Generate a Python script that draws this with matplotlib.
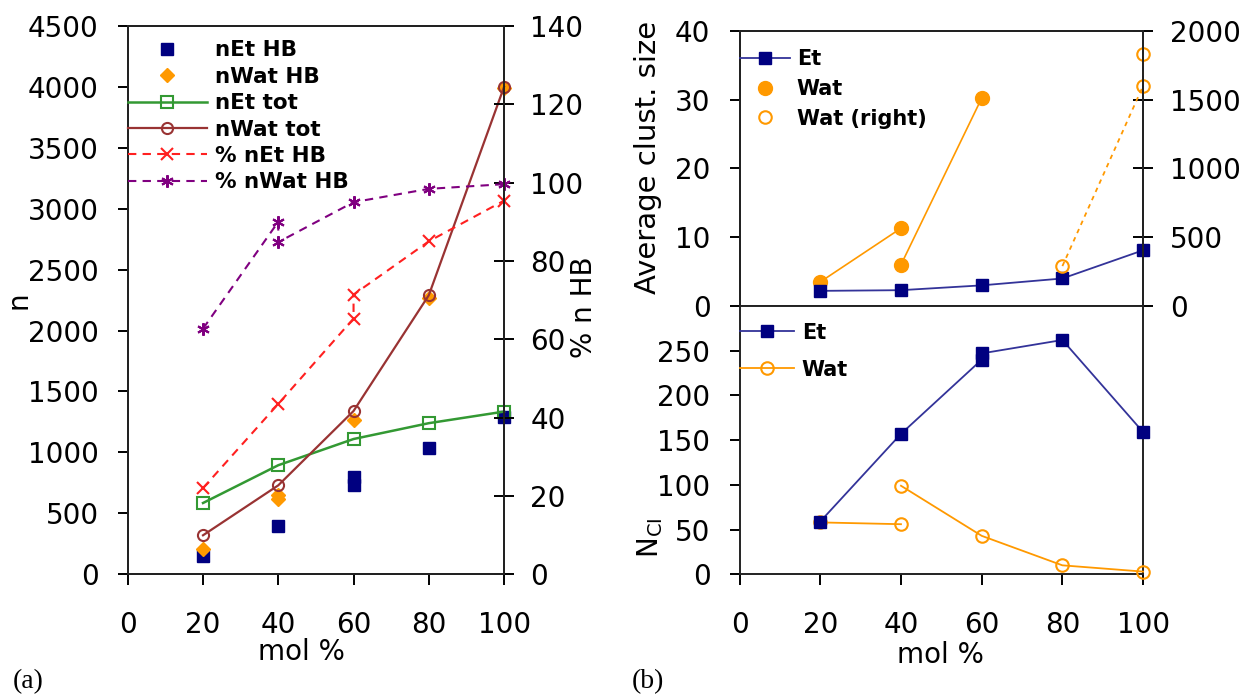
import numpy as np
import matplotlib
matplotlib.use("Agg")
import matplotlib.pyplot as plt
from matplotlib.lines import Line2D

# ---------------- data ----------------
mol_ticks = [0, 20, 40, 60, 80, 100]
mol = [20, 40, 60, 80, 100]

# panel (a), left axis (n)
net_hb_x = [20, 40, 60, 60, 80, 100]
net_hb = [150, 400, 800, 730, 1040, 1290]
nwat_hb_x = [20, 40, 40, 60, 80, 100]
nwat_hb = [210, 650, 620, 1270, 2270, 3990]
net_tot = [585, 895, 1110, 1240, 1335]
nwat_tot = [320, 730, 1340, 2290, 4000]
# panel (a), right axis (% n HB)
pct_net_x = [20, 40, 60, 60, 80, 100]
pct_net = [22, 43.5, 65.3, 71.4, 85, 95.4]
pct_nwat_x = [20, 40, 40, 60, 80, 100]
pct_nwat = [62.7, 90, 84.8, 95, 98.4, 99.6]

# panel (b) top: average cluster size
et_size = [2.2, 2.3, 3.0, 4.0, 8.1]
wat_size_x = [20, 40, 40, 40, 60]
wat_size = [3.5, 11.3, np.nan, 6.0, 30.2]
wat_right_x = [80, 100, 100]
wat_right = [290, 1600, 1830]

# panel (b) bottom: N_CI
et_ncl_x = [20, 40, 60, 60, 80, 100]
et_ncl = [59, 157, 240, 247, 262, 159]
wat_ncl_x = [20, 40, 40, 40, 60, 80, 100]
wat_ncl = [58, 56, np.nan, 99, 43, 10, 3]

left_yticks = list(range(0, 4501, 500))
right_yticks = list(range(0, 141, 20))
size_ticks = [0, 10, 20, 30, 40]
size_right_ticks = [0, 500, 1000, 1500, 2000]
ncl_ticks = [0, 50, 100, 150, 200, 250]

# ---------------- style ----------------
NAVY = "#000080"
NAVY_LINE = "#333399"
ORANGE = "#FF9900"
GREEN = "#339933"
DRED = "#993333"
RED = "#FF2020"
PURPLE = "#800080"
FS = 20
SPW = 1.4

fig = plt.figure(figsize=(12.44, 6.95), dpi=100)
fig.patch.set_facecolor("white")

ax1 = fig.add_axes([0.1027, 0.1737, 0.3025, 0.789])
ax1r = ax1.twinx()
ax2 = fig.add_axes([0.5945, 0.5597, 0.3244, 0.3961])
ax2r = ax2.twinx()
ax3 = fig.add_axes([0.5945, 0.1737, 0.3244, 0.386])

for a in (ax1, ax1r, ax2, ax2r, ax3):
    for s in a.spines.values():
        s.set_linewidth(SPW)
        s.set_color("#222222")

# ---------------- panel (a) ----------------
ax1.plot(net_hb_x, net_hb, ls="none", marker="s", ms=8, color=NAVY,
         mec=NAVY, clip_on=False, zorder=3)
ax1.plot(nwat_hb_x, nwat_hb, ls="none", marker="D", ms=7, color=ORANGE,
         mec=ORANGE, clip_on=False, zorder=3)
ax1.plot(mol, net_tot, ls="-", lw=1.8, color=GREEN, marker="s", ms=8,
         mfc="none", mec=GREEN, mew=1.5, clip_on=False, zorder=4)
ax1.plot(mol, nwat_tot, ls="-", lw=1.6, color=DRED, marker="o", ms=8,
         mfc="none", mec=DRED, mew=1.5, clip_on=False, zorder=4)
ax1r.plot(pct_net_x, pct_net, ls=(0, (4, 3)), lw=1.5, color=RED,
          marker="x", ms=8, mew=1.5, clip_on=False)
ax1r.plot(pct_nwat_x, pct_nwat, ls=(0, (4, 3)), lw=1.5, color=PURPLE,
          marker=(6, 2, 0), ms=9, mew=1.5, clip_on=False)

ax1.set_xlim(0, 100)
ax1.set_ylim(0, 4500)
ax1.set_xticks(mol_ticks)
ax1.set_yticks(left_yticks)
ax1r.set_ylim(0, 140)
ax1r.set_yticks(right_yticks)
ax1.tick_params(axis="y", direction="out", length=7.5, width=SPW, pad=13.5, labelsize=FS)
ax1.tick_params(axis="x", direction="out", length=8, width=SPW, pad=18.5, labelsize=FS)
ax1r.tick_params(axis="y", direction="inout", length=15, width=SPW, pad=11.5, labelsize=FS)

ax1.set_ylabel("n", fontsize=FS)
ax1.yaxis.set_label_coords(-0.254, 0.5)
ax1r.set_ylabel("% n HB", fontsize=FS)
ax1r.yaxis.set_label_coords(1.175, 0.4875)
ax1.set_xlabel("mol %", fontsize=FS)
ax1.xaxis.set_label_coords(0.4605, -0.117)

leg_handles = [
    Line2D([], [], ls="none", marker="s", ms=8, color=NAVY),
    Line2D([], [], ls="none", marker="D", ms=7, color=ORANGE),
    Line2D([], [], ls="-", lw=1.8, color=GREEN, marker="s", ms=8, mfc="none", mew=1.5),
    Line2D([], [], ls="-", lw=1.6, color=DRED, marker="o", ms=8, mfc="none", mew=1.5),
    Line2D([], [], ls=(0, (4, 3)), lw=1.5, color=RED, marker="x", ms=8, mew=1.5),
    Line2D([], [], ls=(0, (4, 3)), lw=1.5, color=PURPLE, marker=(6, 2, 0), ms=9, mew=1.5),
]
leg_labels = ["nEt HB", "nWat HB", "nEt tot", "nWat tot", "% nEt HB", "% nWat HB"]
ax1r.legend(leg_handles, leg_labels, loc="upper left", bbox_to_anchor=(0, 0.974),
            frameon=False, prop=dict(weight="bold", size=15.5), handlelength=3.67,
            handletextpad=0.37, labelspacing=0.3, borderpad=0, borderaxespad=0)

# ---------------- panel (b) top ----------------
ax2.plot(mol, et_size, ls="-", lw=1.3, color=NAVY_LINE, marker="s", ms=8.5,
         mfc=NAVY, mec=NAVY, clip_on=False, zorder=4)
ax2.plot(wat_size_x, wat_size, ls="-", lw=1.2, color=ORANGE, marker="o", ms=10,
         mfc=ORANGE, mec=ORANGE, clip_on=False, zorder=3)
ax2r.plot(wat_right_x, wat_right, ls=(0, (2.5, 2.5)), lw=1.3, color=ORANGE, marker="o",
          ms=9, mfc="none", mec=ORANGE, mew=1.5, clip_on=False)

ax2.set_xlim(0, 100)
ax2.set_ylim(0, 40)
ax2.set_yticks(size_ticks)
ax2r.set_ylim(0, 2000)
ax2r.set_yticks(size_right_ticks)
ax2.tick_params(axis="x", length=0, labelbottom=False)
ax2.tick_params(axis="y", direction="out", length=7.5, width=SPW, pad=13.5, labelsize=FS)
ax2r.tick_params(axis="y", direction="inout", length=15, width=SPW, pad=12, labelsize=FS)
ax2.set_ylabel("Average clust. size", fontsize=21)
ax2.yaxis.set_label_coords(-0.192, 0.541)

leg2_handles = [
    Line2D([], [], ls="-", lw=1.3, color=NAVY_LINE, marker="s", ms=8.5, mfc=NAVY, mec=NAVY),
    Line2D([], [], ls="none", marker="o", ms=10, color=ORANGE),
    Line2D([], [], ls="none", marker="o", ms=9, mfc="none", mec=ORANGE, mew=1.5),
]
ax2r.legend(leg2_handles, ["Et", "Wat", "Wat (right)"], loc="upper left",
            bbox_to_anchor=(0, 0.933), frameon=False, prop=dict(weight="bold", size=15),
            handlelength=2.4, handletextpad=0.34, labelspacing=0.47, borderpad=0,
            borderaxespad=0)

# ---------------- panel (b) bottom ----------------
ax3.plot(et_ncl_x, et_ncl, ls="-", lw=1.3, color=NAVY_LINE, marker="s", ms=8.5,
         mfc=NAVY, mec=NAVY, clip_on=False, zorder=4)
ax3.plot(wat_ncl_x, wat_ncl, ls="-", lw=1.3, color=ORANGE, marker="o", ms=9,
         mfc="none", mec=ORANGE, mew=1.5, clip_on=False, zorder=3)
ax3.set_xlim(0, 100)
ax3.set_ylim(0, 300)
ax3.set_xticks(mol_ticks)
ax3.set_yticks(ncl_ticks)
ax3.tick_params(axis="y", direction="out", length=7.5, width=SPW, pad=13.5, labelsize=FS)
ax3.tick_params(axis="x", direction="out", length=8, width=SPW, pad=18.5, labelsize=FS)
ax3.set_ylabel(r"N$_{\mathrm{CI}}$", fontsize=FS)
ax3.yaxis.set_label_coords(-0.185, 0.135)
ax3.set_xlabel("mol %", fontsize=FS)
ax3.xaxis.set_label_coords(0.497, -0.25)

leg3_handles = [
    Line2D([], [], ls="-", lw=1.3, color=NAVY_LINE, marker="s", ms=8.5, mfc=NAVY, mec=NAVY),
    Line2D([], [], ls="-", lw=1.3, color=ORANGE, marker="o", ms=9, mfc="none", mec=ORANGE, mew=1.5),
]
ax3.legend(leg3_handles, ["Et", "Wat"], loc="upper left", bbox_to_anchor=(0, 0.938),
           frameon=False, prop=dict(weight="bold", size=15), handlelength=2.6,
           handletextpad=0.38, labelspacing=0.81, borderpad=0, borderaxespad=0)

# panel tags
fig.text(13 / 1244, 1 - 682 / 695, "(a)", family="Liberation Serif", fontsize=20,
         ha="left", va="center")
fig.text(632 / 1244, 1 - 682 / 695, "(b)", family="Liberation Serif", fontsize=20,
         ha="left", va="center")

fig.savefig("out.png", dpi=100, facecolor="white")
